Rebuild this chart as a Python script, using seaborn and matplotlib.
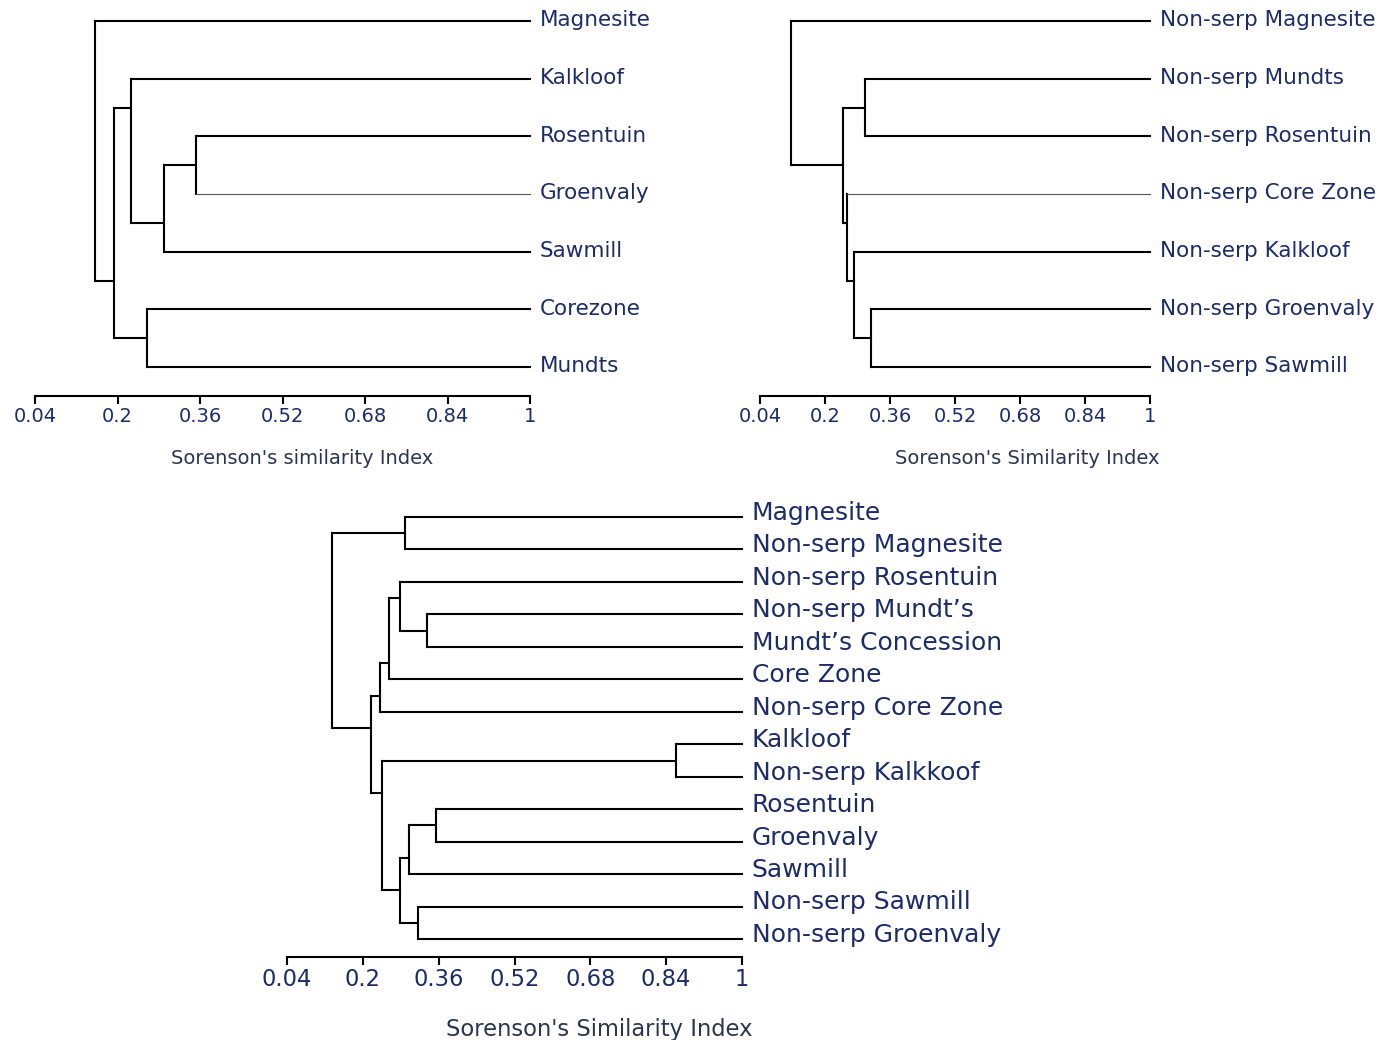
import numpy as np
import matplotlib
matplotlib.use("Agg")
import matplotlib.pyplot as plt
import seaborn as sns

# ---- data: leaf order (top to bottom) and linkage (scipy-like: index >= n is an earlier merge)
tl_leaves = ["Magnesite", "Kalkloof", "Rosentuin", "Groenvaly", "Sawmill", "Corezone", "Mundts"]
tl_left = [2, 7, 1, 5, 9, 0]
tl_right = [3, 4, 8, 6, 10, 11]
tl_height = [0.352, 0.290, 0.227, 0.257, 0.193, 0.156]

tr_leaves = ["Non-serp Magnesite", "Non-serp Mundts", "Non-serp Rosentuin", "Non-serp Core Zone",
             "Non-serp Kalkloof", "Non-serp Groenvaly", "Non-serp Sawmill"]
tr_left = [5, 4, 3, 1, 10, 0]
tr_right = [6, 7, 8, 2, 9, 11]
tr_height = [0.312, 0.272, 0.255, 0.298, 0.244, 0.116]

bt_leaves = ["Magnesite", "Non-serp Magnesite", "Non-serp Rosentuin", "Non-serp Mundt\u2019s",
             "Mundt\u2019s Concession", "Core Zone", "Non-serp Core Zone", "Kalkloof",
             "Non-serp Kalkkoof", "Rosentuin", "Groenvaly", "Sawmill", "Non-serp Sawmill",
             "Non-serp Groenvaly"]
bt_left = [0, 3, 2, 16, 17, 7, 9, 20, 12, 21, 19, 18, 14]
bt_right = [1, 4, 15, 5, 6, 8, 10, 11, 13, 22, 23, 24, 25]
bt_height = [0.289, 0.336, 0.279, 0.256, 0.237, 0.860, 0.354, 0.298, 0.317, 0.278, 0.241, 0.217, 0.134]

tick_values = [0.04, 0.2, 0.36, 0.52, 0.68, 0.84, 1]
tick_labels = ["0.04", "0.2", "0.36", "0.52", "0.68", "0.84", "1"]

# leaves whose branch is drawn faint in the original
thin_leaves = {"Groenvaly_tl", "Non-serp Core Zone_tr"}

TEXT = "#1d2b6b"


def draw_dendrogram(ax, leaves, left, right, height, tag, label_size, label_lift):
    n = len(leaves)
    # per cluster: x of its link, y of its link, first leaf, last leaf
    xpos = [1.0] * n
    ypos = list(range(n))
    lo = list(range(n))
    hi = list(range(n))
    for a, b, h in zip(left, right, height):
        # upper child first
        if lo[a] > lo[b]:
            a, b = b, a
        y_link = (hi[a] + lo[b]) / 2
        ax.plot([h, h], [ypos[a], ypos[b]], color="black", lw=1.5, solid_capstyle="projecting")
        for c in (a, b):
            thin = c < n and f"{leaves[c]}_{tag}" in thin_leaves
            ax.plot([h, xpos[c]], [ypos[c], ypos[c]],
                    color="#555555" if thin else "black", lw=0.8 if thin else 1.5,
                    solid_capstyle="projecting", clip_on=False)
        xpos.append(h)
        ypos.append(y_link)
        lo.append(lo[a])
        hi.append(hi[b])

    for i, name in enumerate(leaves):
        ax.annotate(name, xy=(1, i), xytext=(7, label_lift), textcoords="offset points",
                    va="center", ha="left", fontsize=label_size, color=TEXT,
                    annotation_clip=False)


sns.set_theme(style="ticks")
plt.rcParams["font.family"] = ["DejaVu Sans"]

W, H = 1392, 1040
fig = plt.figure(figsize=(W / 100, H / 100), dpi=100)


def px_axes(x0, x1, y_top, y_bot):
    return fig.add_axes([x0 / W, 1 - y_bot / H, (x1 - x0) / W, (y_bot - y_top) / H])


panels = [
    # leaves, left, right, height, tag, px box, ylim, label size, tick size, xlabel, label x, lift
    (tl_leaves, tl_left, tl_right, tl_height, "tl", (35, 530, 3.7, 396), (6.5, -0.3),
     15.5, 14, "Sorenson's similarity Index", 0.539, 0.5),
    (tr_leaves, tr_left, tr_right, tr_height, "tr", (760, 1150, 3.7, 396), (6.5, -0.3),
     15.5, 14, "Sorenson's Similarity Index", 0.685, 0.5),
    (bt_leaves, bt_left, bt_right, bt_height, "bt", (287, 742, 504, 957), (13.55, -0.4),
     18, 16.3, "Sorenson's Similarity Index", 0.686, 3),
]

for leaves, left, right, height, tag, box, ylim, lab_fs, tick_fs, xlabel, lx, lift in panels:
    ax = px_axes(*box)
    draw_dendrogram(ax, leaves, left, right, height, tag, lab_fs, lift)
    ax.set_xlim(0.04, 1)
    ax.set_ylim(*ylim)
    ax.set_yticks([])
    ax.set_xticks(tick_values)
    ax.set_xticklabels(tick_labels)
    ax.tick_params(axis="x", length=6, width=1.5, color="black", pad=2,
                   labelsize=tick_fs, labelcolor=TEXT)
    sns.despine(ax=ax, left=True)
    ax.spines["bottom"].set_linewidth(1.5)
    ax.spines["bottom"].set_color("black")
    ax.set_xlabel(xlabel, fontsize=tick_fs, color="#2b3550")
    ax.xaxis.set_label_coords(lx, -0.135)
    ax.set_facecolor("none")

fig.savefig("out.png", dpi=100, facecolor="white")
